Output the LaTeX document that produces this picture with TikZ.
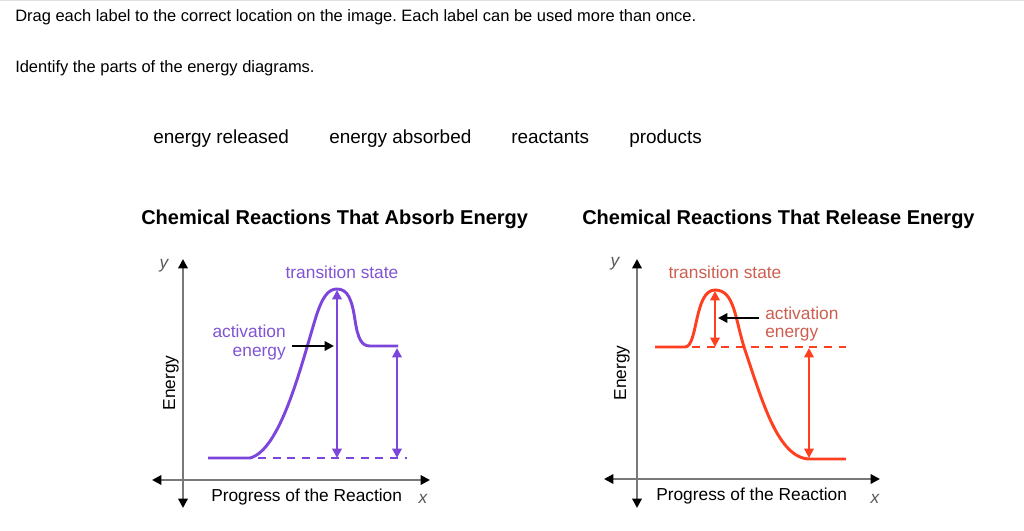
\documentclass[tikz,border=0pt]{standalone}
\usepackage{fontspec}
\setmainfont{Liberation Sans}
\usetikzlibrary{arrows.meta}
\frenchspacing
\definecolor{purp}{RGB}{124,70,220}
\definecolor{purptext}{RGB}{128,84,212}
\definecolor{redl}{RGB}{255,64,32}
\definecolor{redtext}{RGB}{205,95,80}
\definecolor{axisgray}{RGB}{120,120,120}
\tikzset{
  instr/.style={anchor=west, inner sep=0pt, font=\fontsize{12.35pt}{14pt}\selectfont},
  choice/.style={anchor=base west, inner sep=0pt, font=\fontsize{14.2pt}{17pt}\selectfont},
  ttl/.style={anchor=base west, inner sep=0pt, font=\fontsize{15pt}{17pt}\selectfont\bfseries},
  lbl/.style={inner sep=0pt, font=\fontsize{13pt}{16pt}\selectfont},
  axisline/.style={axisgray, line width=1.6pt, {Triangle[length=7pt,width=7pt,color=black]}-{Triangle[length=7pt,width=7pt,color=black]}},
  curve/.style={line width=2.2pt},
  dbl/.style={line width=1.5pt, {Triangle[length=7pt,width=7pt]}-{Triangle[length=7pt,width=7pt]}},
  pointer/.style={black, line width=1.6pt, -{Triangle[length=7pt,width=7pt]}},
  dashline/.style={line width=1.2pt, dash pattern=on 6pt off 5pt}
}
\begin{document}
\begin{tikzpicture}[x=0.75pt,y=-0.75pt]
\useasboundingbox (0,0) rectangle (1024,531);
\fill[white] (0,0) rectangle (1024,531);
\draw[gray!25, line width=1pt] (0,0.5) -- (1024,0.5);

\node[instr] (q1) at (15,17) {Drag each label to the correct location on the image. Each label can be used more than once.};
\node[instr] (q2) at (15,68) {Identify the parts of the energy diagrams.};

\node[choice] (c1) at (153,144) {energy released};
\node[choice] (c2) at (329,144) {energy absorbed};
\node[choice] (c3) at (511,144) {reactants};
\node[choice] (c4) at (629,144) {products};

\node[ttl] (t1) at (141,224) {Chemical Reactions That Absorb Energy};
\node[ttl] (t2) at (582,224) {Chemical Reactions That Release Energy};

% ---------- left diagram ----------
\coordinate (ly0) at (183,508);
\coordinate (ly1) at (183,259);
\coordinate (lx0) at (152,480);
\coordinate (lx1) at (430,480);
\draw[axisline] (ly0) -- (ly1);
\draw[axisline] (lx0) -- (lx1);
\node[lbl, font=\fontsize{13pt}{16pt}\selectfont\itshape, gray!70!black] (lyl) at (164,266) {y};
\node[lbl, font=\fontsize{13pt}{16pt}\selectfont\itshape, gray!70!black] (lxl) at (423,499) {x};
\node[lbl, anchor=west] (lprog) at (211,497) {Progress of the Reaction};
\node[lbl, rotate=90] (lenergy) at (171,383) {Energy};

\draw[dashline, purp] (258,458) -- (407,458);
\draw[curve, purp] (208,458) -- (250,458)
  .. controls (280,450) and (300,370) .. (315,320)
  .. controls (322,297) and (328,289) .. (337,289)
  .. controls (348,289) and (352,300) .. (355,320)
  .. controls (358,340) and (362,346) .. (370,346)
  -- (398,346);
\coordinate (la1) at (337,458);
\coordinate (la2) at (337,290);
\coordinate (lb1) at (397,458);
\coordinate (lb2) at (397,348);
\draw[dbl, purp] (la1) -- (la2);
\draw[dbl, purp] (lb1) -- (lb2);

\node[lbl, purptext, anchor=east] (lact1) at (286,331) {activation};
\node[lbl, purptext, anchor=east] (lact2) at (286,354) {energy};
\node[lbl, purptext] (lts) at (342,272) {transition state};
\coordinate (lp1) at (292,346);
\coordinate (lp2) at (334,346);
\draw[pointer] (lp1) -- (lp2);

% ---------- right diagram ----------
\coordinate (ry0) at (637,508);
\coordinate (ry1) at (637,259);
\coordinate (rx0) at (604,479);
\coordinate (rx1) at (880,479);
\draw[axisline] (ry0) -- (ry1);
\draw[axisline] (rx0) -- (rx1);
\node[lbl, font=\fontsize{13pt}{16pt}\selectfont\itshape, gray!70!black] (ryl) at (615,264) {y};
\node[lbl, font=\fontsize{13pt}{16pt}\selectfont\itshape, gray!70!black] (rxl) at (875,499) {x};
\node[lbl, anchor=west] (rprog) at (656,496) {Progress of the Reaction};
\node[lbl, rotate=90] (renergy) at (622,373) {Energy};

\draw[dashline, redl] (692,347) -- (846,347);
\draw[curve, redl] (655,347) -- (685,347)
  .. controls (698,347) and (694,290) .. (715,290)
  .. controls (735,290) and (735,320) .. (745,350)
  .. controls (762,400) and (778,459) .. (810,459)
  -- (846,459);
\coordinate (ra1) at (715,347);
\coordinate (ra2) at (715,291);
\coordinate (rb1) at (809,458);
\coordinate (rb2) at (809,348);
\draw[dbl, redl] (ra1) -- (ra2);
\draw[dbl, redl] (rb1) -- (rb2);

\node[lbl, redtext, anchor=west] (ract1) at (765,313) {activation};
\node[lbl, redtext, anchor=west] (ract2) at (765,335) {energy};
\node[lbl, redtext] (rts) at (725,272) {transition state};
\coordinate (rp1) at (759,318);
\coordinate (rp2) at (718,318);
\draw[pointer] (rp1) -- (rp2);
\end{tikzpicture}
\end{document}
